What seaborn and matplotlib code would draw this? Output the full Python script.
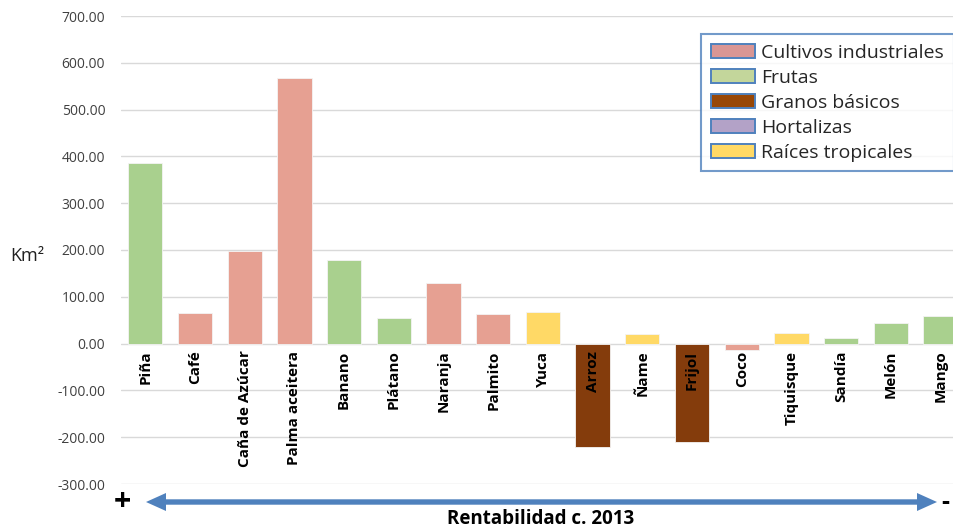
import matplotlib
matplotlib.use("Agg")
import matplotlib.pyplot as plt
from matplotlib.patches import Patch, Polygon
import seaborn as sns
import pandas as pd

# Crop names ordered by profitability (most profitable on the left)
crops = ["Piña", "Café", "Caña de Azúcar", "Palma aceitera", "Banano", "Plátano",
         "Naranja", "Palmito", "Yuca", "Arroz", "Ñame", "Frijol", "Coco",
         "Tiquisque", "Sandía", "Melón", "Mango"]
# Change in cultivated area (km²)
area_change = [386, 65, 198, 568, 179, 55, 130, 64, 68, -221, 20, -210, -13,
               23, 13, 45, 58]
groups = ["Frutas", "Cultivos industriales", "Cultivos industriales",
          "Cultivos industriales", "Frutas", "Frutas", "Cultivos industriales",
          "Cultivos industriales", "Raíces tropicales", "Granos básicos",
          "Raíces tropicales", "Granos básicos", "Cultivos industriales",
          "Raíces tropicales", "Frutas", "Frutas", "Frutas"]

legend_groups = ["Cultivos industriales", "Frutas", "Granos básicos",
                 "Hortalizas", "Raíces tropicales"]
bar_colors = {"Cultivos industriales": "#E6A092", "Frutas": "#A9D08E",
              "Granos básicos": "#843C0C", "Hortalizas": "#B3A2C7",
              "Raíces tropicales": "#FFD966"}
legend_colors = {"Cultivos industriales": "#D99694", "Frutas": "#C3D69B",
                 "Granos básicos": "#984807", "Hortalizas": "#B3A2C7",
                 "Raíces tropicales": "#FFD966"}
y_ticks = [-300, -200, -100, 0, 100, 200, 300, 400, 500, 600, 700]

df = pd.DataFrame({"cultivo": crops, "area": area_change, "grupo": groups})

sns.set_theme(style="white")
plt.rcParams["font.family"] = ["Open Sans", "DejaVu Sans"]

W, H = 954, 531
fig = plt.figure(figsize=(W / 100, H / 100), dpi=100)
ax = fig.add_axes([120.5 / W, 1 - 484 / H, (965.3 - 120.5) / W, (484 - 16) / H])

sns.barplot(data=df, x="cultivo", y="area", hue="grupo", order=crops,
            palette=bar_colors, saturation=1, dodge=False, width=0.69, legend=False,
            edgecolor="#F4F4F4", linewidth=0.6, ax=ax, zorder=2)

ax.set_ylim(-300, 700)
ax.set_xlim(-0.5, len(crops) - 0.5)
ax.set_yticks(y_ticks)
ax.set_yticklabels([f"{v:.2f}" for v in y_ticks], fontsize=10, color="#404040")
ax.tick_params(axis="y", length=0, pad=11)
ax.set_xticks([])
ax.set_xlabel("")
ax.set_ylabel("")
ax.grid(axis="y", color="#D9D9D9", linewidth=1, zorder=0)
ax.set_axisbelow(True)
for s in ax.spines.values():
    s.set_visible(False)

# Category names, written vertically just under the zero line
trans = matplotlib.transforms.offset_copy(ax.transData, fig=fig, y=-7, units="dots")
for i, name in enumerate(crops):
    ax.text(i, 0, name, rotation=90, ha="center", va="top", fontsize=11,
            fontweight="bold", color="black", transform=trans, zorder=3)

# Legend including every crop group
handles = [Patch(facecolor=legend_colors[g], edgecolor="#4F81BD", linewidth=1.4, label=g)
           for g in legend_groups]
leg = fig.legend(handles=handles, loc="upper left", bbox_to_anchor=(701 / W, 1 - 34 / H),
                 fontsize=14, frameon=True, fancybox=False, handlelength=2.3,
                 handleheight=0.72, handletextpad=0.3, labelspacing=0.36,
                 borderpad=0.5, borderaxespad=0)
leg.get_frame().set_edgecolor("#4F81BD")
leg.get_frame().set_linewidth(1.5)

fig.text(10 / W, 1 - 256 / H, "Km²", fontsize=13, ha="left", va="center", color="#202020")

# Double-headed profitability arrow under the chart (pixel outline)
x0, x1, yc = 146, 937, 502
head_len, head_half, shaft_half = 20, 9, 2.7
outline_px = [
    (x0, yc), (x0 + head_len, yc - head_half), (x0 + head_len, yc - shaft_half),
    (x1 - head_len, yc - shaft_half), (x1 - head_len, yc - head_half), (x1, yc),
    (x1 - head_len, yc + head_half), (x1 - head_len, yc + shaft_half),
    (x0 + head_len, yc + shaft_half), (x0 + head_len, yc + head_half),
]
fig.patches.append(Polygon([(x / W, 1 - y / H) for x, y in outline_px], closed=True,
                           transform=fig.transFigure, facecolor="#4F81BD",
                           edgecolor="none"))
fig.text(122 / W, 1 - 502 / H, "+", fontsize=22, fontweight="bold",
         ha="center", va="center", color="black")
fig.text(945 / W, 1 - 503 / H, "-", fontsize=18, fontweight="bold",
         ha="center", va="center", color="black")
fig.text(541 / W, 1 - 519 / H, "Rentabilidad c. 2013", fontsize=13.5,
         fontweight="bold", ha="center", va="center", color="black")

fig.savefig("out.png", dpi=100)
